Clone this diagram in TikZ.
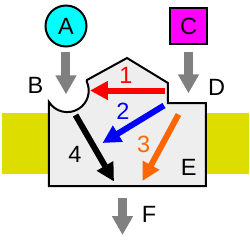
\documentclass[tikz,border=0pt]{standalone}
\usepackage{fontspec}
\setmainfont{Liberation Sans}
\usetikzlibrary{arrows.meta}
\definecolor{ybar}{HTML}{DDDD00}
\definecolor{bodyfill}{HTML}{EEEEEE}
\definecolor{cyanA}{HTML}{00FFFF}
\definecolor{magC}{HTML}{FF00FF}
\definecolor{orangeC}{HTML}{FF6600}
\definecolor{grayC}{HTML}{808080}
\begin{document}
\begin{tikzpicture}[x=1pt,y=-1pt,
  lbl/.style={font=\fontsize{23.5}{23.5}\selectfont, inner sep=0pt},
  grayarrow/.style={draw=grayC, line width=9pt, -{Triangle[width=20pt,length=19pt]}},
  colarrow/.style={line width=6pt, -{Triangle[width=18pt,length=18pt]}},
  ybarstyle/.style={fill=ybar},
  bodystyle/.style={draw=black, line width=2pt, fill=bodyfill, line join=miter},
]
\useasboundingbox (0,0) rectangle (250,250);
% yellow bars
\fill[ybarstyle] (2,112.5) rectangle (49,174);
\fill[ybarstyle] (206,112.5) rectangle (249,174);
% body
\draw[bodystyle] (49,102) arc[start angle=148, end angle=-25, radius=21.5]
  -- (87,80) -- (127,58) -- (168,83) -- (168,103) -- (206,103) -- (206,186) -- (49,186) -- cycle;
% top nodes
\node[circle, draw, line width=2pt, fill=cyanA, minimum size=41pt, lbl] (A) at (66,26) {A};
\node[draw, line width=2pt, fill=magC, minimum size=36.5pt, lbl] (C) at (188.5,26) {C};
% coordinates
\coordinate (aEnd) at (66,94.3);
\coordinate (cEnd) at (188.5,93.3);
\coordinate (fStart) at (122.5,198.3);
\coordinate (fEnd) at (122.5,235);
\coordinate (r1) at (165,90.5);
\coordinate (r2) at (90,90.5);
\coordinate (b1) at (164,105.5);
\coordinate (b2) at (102.5,143);
\coordinate (o1) at (178.5,114.5);
\coordinate (o2) at (142.5,181);
\coordinate (k1) at (75.5,115);
\coordinate (k2) at (114,181.5);
% gray arrows
\draw[grayarrow, shorten <=4.2pt] (A.south) -- (aEnd);
\draw[grayarrow, shorten <=6.4pt] (C.south) -- (cEnd);
\draw[grayarrow] (fStart) -- (fEnd);
% colored arrows
\draw[colarrow, draw=red, fill=red] (r1) -- (r2);
\draw[colarrow, draw=blue, fill=blue] (b1) -- (b2);
\draw[colarrow, draw=orangeC, fill=orangeC] (o1) -- (o2);
\draw[colarrow, draw=black, fill=black] (k1) -- (k2);
% labels
\node[lbl] (B) at (35.5,85.5) {B};
\node[lbl] (D) at (216.7,87.5) {D};
\node[lbl] (E) at (188.8,167.5) {E};
\node[lbl] (F) at (149,214.5) {F};
\node[lbl, text=red] (n1) at (126,75.8) {1};
\node[lbl, text=blue] (n2) at (122.8,110.8) {2};
\node[lbl, text=orangeC] (n3) at (143.7,144.7) {3};
\node[lbl] (n4) at (75,154.2) {4};
\end{tikzpicture}
\end{document}
